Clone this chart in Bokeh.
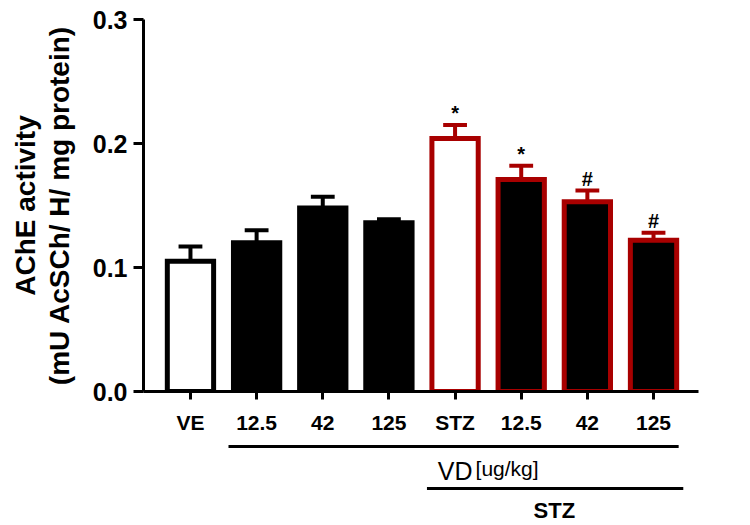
from bokeh.plotting import figure
from bokeh.layouts import column
from bokeh.models import FixedTicker, LinearAxis, PrintfTickFormatter, ColumnDataSource, Range1d
from bokeh.core.properties import value
from bokeh.embed import file_html
from bokeh.resources import INLINE

# ---- data ----
labels = ["VE", "12.5", "42", "125", "STZ", "12.5", "42", "125"]
values = [0.105, 0.120, 0.148, 0.136, 0.204, 0.171, 0.153, 0.122]
errors = [0.012, 0.010, 0.009, 0.003, 0.011, 0.011, 0.009, 0.006]
marks = ["", "", "", "", "*", "*", "#", "#"]
y_ticks = [0.0, 0.1, 0.2, 0.3]
y_title_1 = "AChE activity"
y_title_2 = "(mU AcSCh/ H/ mg protein)"
# groups: (label, first index, last index)
group_vd = ("VD", "[ug/kg]", 1, 7)
group_stz = ("STZ", 4, 7)

RED = "#A80000"
fills = ["white", "black", "black", "black", "white", "black", "black", "black"]
lines = ["black", "black", "black", "black", RED, RED, RED, RED]
FONT = "Liberation Sans"

W = 742
H1 = 440
H2 = 84
BL, BR, BT = 143, 44, 19
BB = H1 - 391
XS, XE = -0.71, 7.68

xs = list(range(len(labels)))
uppers = [v + e for v, e in zip(values, errors)]
src = ColumnDataSource(dict(x=xs, v=values, e=errors, up=uppers, fill=fills,
                            line=lines, mark=marks))

p = figure(width=W, height=H1, x_range=Range1d(XS, XE), y_range=Range1d(0, 0.3),
           output_backend="svg", toolbar_location=None,
           min_border_left=BL, min_border_right=BR, min_border_top=BT,
           min_border_bottom=BB)
p.outline_line_color = None
p.grid.visible = False

# error bars (upper only)
p.segment(x0="x", y0="v", x1="x", y1="up", source=src, line_color="line",
          line_width=4, line_cap="butt")
cap = 0.18
p.segment(x0=[x - cap for x in xs], y0=uppers, x1=[x + cap for x in xs], y1=uppers,
          line_color=lines, line_width=4, line_cap="butt")

# bars
p.vbar(x="x", top="v", bottom=0, width=0.70, source=src, fill_color="fill",
       line_color="line", line_width=5, line_join="miter")

# significance marks
p.text(x="x", y="up", text="mark", source=src, text_align="center",
       text_baseline="bottom", y_offset=-1, text_font_size="20px",
       text_font_style="bold", text_color="black", text_font=value(FONT))

# x axis
xa = p.xaxis[0]
xa.ticker = FixedTicker(ticks=xs)
xa.major_label_overrides = {i: l for i, l in zip(xs, labels)}
xa.minor_tick_line_color = None
xa.major_tick_in = 0
xa.major_tick_out = 8
xa.axis_line_width = 3
xa.major_tick_line_width = 3
xa.major_label_text_font = FONT
xa.major_label_text_font_style = "bold"
xa.major_label_text_font_size = "21px"
xa.major_label_text_color = "black"
xa.major_label_standoff = 11

# y axis (inner, with second title line)
ya = p.yaxis[0]
ya.ticker = FixedTicker(ticks=y_ticks)
ya.formatter = PrintfTickFormatter(format="%.1f")
ya.minor_tick_line_color = None
ya.major_tick_in = 0
ya.major_tick_out = 10
ya.axis_line_width = 3
ya.major_tick_line_width = 3
ya.major_label_text_font = FONT
ya.major_label_text_font_style = "bold"
ya.major_label_text_font_size = "25px"
ya.major_label_text_color = "black"
ya.major_label_standoff = 6
ya.axis_label = y_title_2
ya.axis_label_text_font = FONT
ya.axis_label_text_font_style = "bold"
ya.axis_label_text_font_size = "28px"
ya.axis_label_text_color = "black"
ya.axis_label_standoff = 15

# outer y axis carrying the first title line
ya2 = LinearAxis(ticker=FixedTicker(ticks=[]), axis_label=y_title_1,
                 axis_line_color=None, major_tick_line_color=None,
                 minor_tick_line_color=None, major_tick_out=0, major_tick_in=0,
                 major_label_standoff=0, major_label_text_font_size="0px",
                 axis_label_text_font=FONT, axis_label_text_font_style="bold",
                 axis_label_text_font_size="28px", axis_label_text_color="black",
                 axis_label_standoff=0)
p.add_layout(ya2, "left")

# ---- bottom panel with group lines ----
p2 = figure(width=W, height=H2, x_range=p.x_range, y_range=Range1d(H2, 0),
            output_backend="svg", toolbar_location=None,
            min_border_left=BL, min_border_right=BR, min_border_top=0,
            min_border_bottom=0)
p2.outline_line_color = None
p2.grid.visible = False
p2.axis.visible = False

pad_l, pad_r = 0.425, 0.38
pad_r2 = 0.45
vd_name, vd_unit, vd_a, vd_b = group_vd
st_name, st_a, st_b = group_stz
p2.segment(x0=[vd_a - pad_l, st_a - pad_l], y0=[6, 48],
           x1=[vd_b + pad_r, st_b + pad_r2], y1=[6, 48],
           line_color="black", line_width=3, line_cap="butt")
mid_vd = (vd_a + vd_b) / 2 + 0.28
p2.text(x=[mid_vd], y=[30], text=[vd_name], text_align="right",
        text_baseline="middle", x_offset=-1, text_font=value(FONT),
        text_font_size="25px", text_color="black")
p2.text(x=[mid_vd], y=[28], text=[vd_unit], text_align="left",
        text_baseline="middle", x_offset=2, text_font=value(FONT),
        text_font_size="21px", text_color="black")
p2.text(x=[(st_a + st_b) / 2], y=[70], text=[st_name], text_align="center",
        text_baseline="middle", text_font=value(FONT), text_font_size="22px",
        text_font_style="bold", text_color="black")

layout = column(p, p2, spacing=0)
open("out.html", "w").write(file_html(layout, INLINE))
